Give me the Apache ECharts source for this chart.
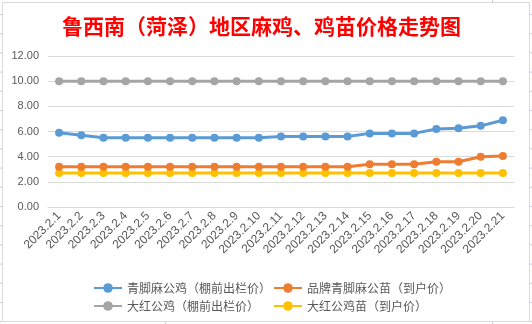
<!DOCTYPE html>
<html>
<head>
<meta charset="utf-8">
<script src="https://cdn.jsdelivr.net/npm/echarts@6/dist/echarts.min.js"></script>
<style>
html,body{margin:0;padding:0;background:#fff;}
#c{width:532px;height:324px;}
</style>
</head>
<body>
<div id="c"></div>
<script>
var categories = ['2023.2.1','2023.2.2','2023.2.3','2023.2.4','2023.2.5','2023.2.6','2023.2.7','2023.2.8','2023.2.9','2023.2.10','2023.2.11','2023.2.12','2023.2.13','2023.2.14','2023.2.15','2023.2.16','2023.2.17','2023.2.18','2023.2.19','2023.2.20','2023.2.21'];
var seriesNames = ['青脚麻公鸡（棚前出栏价）','品牌青脚麻公苗（到户价）','大红公鸡（棚前出栏价）','大红公鸡苗（到户价）'];
var qingjiaoRooster = [5.9,5.7,5.5,5.5,5.5,5.5,5.5,5.5,5.5,5.5,5.6,5.6,5.6,5.6,5.85,5.85,5.85,6.2,6.25,6.45,6.9];
var qingjiaoChick = [3.2,3.2,3.2,3.2,3.2,3.2,3.2,3.2,3.2,3.2,3.2,3.2,3.2,3.2,3.4,3.4,3.4,3.6,3.6,4.0,4.05];
var dahongRooster = [10,10,10,10,10,10,10,10,10,10,10,10,10,10,10,10,10,10,10,10,10];
var dahongChick = [2.7,2.7,2.7,2.7,2.7,2.7,2.7,2.7,2.7,2.7,2.7,2.7,2.7,2.7,2.7,2.7,2.7,2.7,2.7,2.7,2.7];
var colors = ['#5B9BD5','#ED7D31','#A5A5A5','#FFC000'];
var yTicks = {min:0, max:12, interval:2};

var chart = echarts.init(document.getElementById('c'), null, {renderer:'canvas'});
function mk(i, data){
  return {
    name: seriesNames[i], type:'line', data:data,
    symbol:'circle', symbolSize:8, lineStyle:{width:3, color:colors[i]},
    itemStyle:{color:colors[i]}, z: 10 - i
  };
}
var legendText = {color:'#595959', fontSize:12, fontFamily:'"Noto Sans CJK SC", sans-serif'};
// spreadsheet gridline stubs outside chart border
var stubs = [];
for (var k=0;k<17;k++){
  var yy = 14.5 + k*19.2;
  stubs.push({type:'line', shape:{x1:0,y1:yy,x2:2,y2:yy}, style:{stroke:'#c8c8dc',lineWidth:1}, silent:true});
  stubs.push({type:'line', shape:{x1:530,y1:yy,x2:532,y2:yy}, style:{stroke:'#c8c8dc',lineWidth:1}, silent:true});
}
stubs.push({type:'line', shape:{x1:492.5,y1:0,x2:492.5,y2:2}, style:{stroke:'#c8c8dc',lineWidth:1}, silent:true});
stubs.push({type:'line', shape:{x1:492.5,y1:322,x2:492.5,y2:324}, style:{stroke:'#c8c8dc',lineWidth:1}, silent:true});
stubs.push({type:'line', shape:{x1:165.5,y1:322,x2:165.5,y2:324}, style:{stroke:'#c8c8dc',lineWidth:1}, silent:true});
stubs.push({type:'rect', shape:{x:2.5,y:2.5,width:527,height:319}, style:{fill:'none',stroke:'#d9d9d9',lineWidth:1}, silent:true, z:-1});

chart.setOption({
  backgroundColor:'#fff',
  animation:false,
  color: colors,
  title:{
    text:'鲁西南（菏泽）地区麻鸡、鸡苗价格走势图',
    left:57, top:11,
    textStyle:{color:'#FF0000', fontSize:21, fontWeight:'bold', fontFamily:'"Noto Sans CJK SC", sans-serif'}
  },
  graphic: stubs,
  legend:[
    {data:[seriesNames[0], seriesNames[2]], orient:'vertical', left:88, top:277, itemWidth:28, itemHeight:12, itemGap:6, textStyle:legendText},
    {data:[seriesNames[1], seriesNames[3]], orient:'vertical', left:268, top:277, itemWidth:28, itemHeight:12, itemGap:6, textStyle:legendText}
  ],
  grid:{left:48, right:18, top:56, bottom:117, containLabel:false},
  xAxis:{
    type:'category', data:categories, boundaryGap:true,
    axisLine:{lineStyle:{color:'#d9d9d9'}}, axisTick:{show:false},
    axisLabel:{rotate:45, interval:0, margin:7, color:'#595959', fontSize:12, fontFamily:'"Liberation Sans", sans-serif'}
  },
  yAxis:{
    type:'value', min:yTicks.min, max:yTicks.max, interval:yTicks.interval,
    axisLine:{show:false}, axisTick:{show:false},
    splitLine:{lineStyle:{color:'#d9d9d9', width:1}},
    axisLabel:{margin:9, color:'#595959', fontSize:11, fontFamily:'"Liberation Sans", sans-serif', formatter:function(v){return v.toFixed(2);}}
  },
  series:[mk(0,qingjiaoRooster), mk(1,qingjiaoChick), mk(2,dahongRooster), mk(3,dahongChick)]
});
</script>
</body>
</html>
